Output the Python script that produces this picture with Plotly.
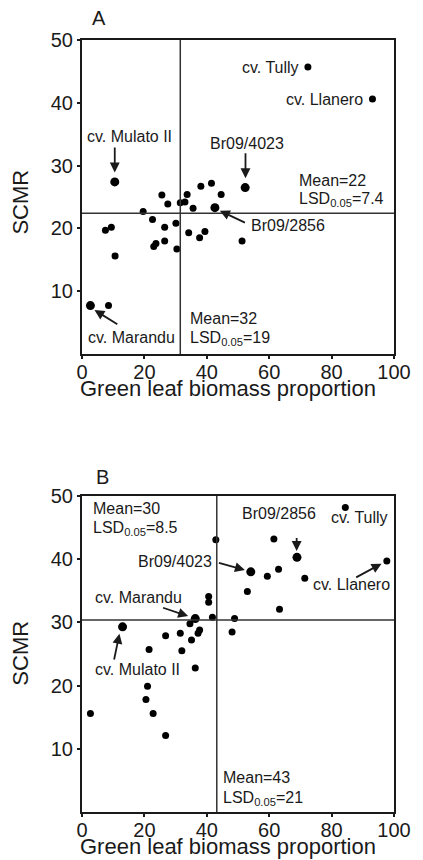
import plotly.graph_objects as go

# ---------------- data ----------------
# Panel A
A_green = [72.4, 93.1, 10.5, 52.3, 25.6, 33.7, 38.1, 41.5, 44.6, 27.5, 31.5, 33.0, 35.6, 42.6,
           19.6, 22.6, 30.1, 26.5, 7.5, 9.4, 34.2, 39.4, 37.7, 51.3, 23.7, 23.0, 26.5, 30.4,
           10.6, 2.7, 8.5]
A_scmr = [45.7, 40.6, 27.4, 26.5, 25.3, 25.4, 26.7, 27.2, 25.4, 23.9, 24.1, 24.2, 23.2, 23.3,
          22.7, 21.4, 20.8, 20.2, 19.7, 20.2, 19.3, 19.5, 18.5, 18.0, 17.6, 17.1, 18.0, 16.7,
          15.6, 7.7, 7.7]
A_highlight = [2, 3, 13, 29]          # Mulato II, Br09/4023, Br09/2856, Marandu
A_mean_green = 31.5
A_mean_scmr = 22.4

# Panel B
B_green = [84.4, 42.9, 61.5, 68.9, 97.7, 54.1, 59.4, 63.0, 71.4, 53.0, 63.3, 40.6, 40.6, 41.8,
           36.3, 34.6, 48.9, 13.0, 48.1, 26.8, 31.5, 37.2, 37.7, 35.1, 21.5, 32.0, 36.3, 21.0,
           20.5, 22.8, 2.7, 26.8]
B_scmr = [48.2, 43.1, 43.2, 40.3, 39.7, 38.0, 37.3, 38.4, 37.0, 34.9, 32.1, 34.1, 33.2, 30.8,
          30.6, 29.8, 30.6, 29.3, 28.5, 27.9, 28.3, 28.3, 28.8, 27.2, 25.7, 25.5, 22.8, 19.9,
          17.8, 15.6, 15.6, 12.1]
B_highlight = [3, 5, 14, 17]          # Br09/2856, Br09/4023, Marandu, Mulato II
B_mean_green = 43.2
B_mean_scmr = 30.4

x_ticks = [0, 20, 40, 60, 80, 100]
y_ticks = [10, 20, 30, 40, 50]

FONT = "Liberation Sans, Arial, sans-serif"
INK = "#1a1a1a"

fig = go.Figure()


def sizes(n, hl):
    return [9 if i in hl else 7 for i in range(n)]


fig.add_trace(go.Scatter(x=A_green, y=A_scmr, mode="markers",
                         marker=dict(color="#000000", opacity=1, size=sizes(len(A_green), A_highlight),
                                     line=dict(width=0)),
                         xaxis="x", yaxis="y", showlegend=False, hoverinfo="x+y"))
fig.add_trace(go.Scatter(x=B_green, y=B_scmr, mode="markers",
                         marker=dict(color="#000000", opacity=1, size=sizes(len(B_green), B_highlight),
                                     line=dict(width=0)),
                         xaxis="x2", yaxis="y2", showlegend=False, hoverinfo="x+y"))

# mean lines
for xr, yr, mx, my in [("x", "y", A_mean_green, A_mean_scmr), ("x2", "y2", B_mean_green, B_mean_scmr)]:
    fig.add_shape(type="line", xref=xr, yref=yr + " domain", x0=mx, x1=mx, y0=0, y1=1,
                  line=dict(color="#333", width=1.5))
    fig.add_shape(type="line", xref=xr + " domain", yref=yr, x0=0, x1=1, y0=my, y1=my,
                  line=dict(color="#333", width=1.5))

axis_common = dict(showline=True, mirror=True, linewidth=2, linecolor=INK, showgrid=False,
                   zeroline=False, ticks="outside", ticklen=3, tickwidth=1.5, tickcolor=INK,
                   tickfont=dict(family=FONT, size=20, color=INK))

# page body has an 8px margin, so the figure is 8px smaller than the window on each side
fig.update_layout(
    width=415, height=852,
    margin=dict(l=74, r=19, t=32, b=48),
    plot_bgcolor="white", paper_bgcolor="white",
    xaxis=dict(domain=[0, 1], range=[0, 100], tickvals=x_ticks, anchor="y",
               ticklabelstandoff=-4, **axis_common),
    yaxis=dict(domain=[0.5933, 1], range=[0, 50], tickvals=y_ticks, anchor="x", **axis_common),
    xaxis2=dict(domain=[0, 1], range=[0, 100], tickvals=x_ticks, anchor="y2",
                ticklabelstandoff=-4, **axis_common),
    yaxis2=dict(domain=[0, 0.4093], range=[0, 50], tickvals=y_ticks, anchor="x2", **axis_common),
)

ann = []


def txt(xr, yr, x, y, text, xanchor="left", size=16):
    ann.append(dict(xref=xr, yref=yr, x=x, y=y, text=text, showarrow=False, xanchor=xanchor,
                    yanchor="middle", font=dict(family=FONT, size=size, color=INK)))


def arrow(xr, yr, tail, head):
    ann.append(dict(xref=xr, yref=yr, axref=xr, ayref=yr, x=head[0], y=head[1], ax=tail[0],
                    ay=tail[1], text="", showarrow=True, arrowhead=2, arrowsize=1.1,
                    arrowwidth=1.8, arrowcolor=INK))


# Panel A texts
txt("x domain", "y domain", 0.056, 1.07, "A", "center", 20)
txt("x", "y", 70.2, 45.7, "cv. Tully", "right")
txt("x", "y", 90.7, 40.6, "cv. Llanero", "right")
txt("x", "y", 15.2, 34.6, "cv. Mulato II", "center")
txt("x", "y", 52.8, 33.5, "Br09/4023", "center")
txt("x", "y", 68.9, 27.6, "Mean=22")
txt("x", "y", 68.9, 24.6, "LSD<sub>0.05</sub>=7.4")
txt("x", "y", 53.4, 20.5, "Br09/2856")
txt("x", "y", 33.9, 5.7, "Mean=32")
txt("x", "y", 33.9, 2.4, "LSD<sub>0.05</sub>=19")
txt("x", "y", 1.2, 2.6, "cv. Marandu")
arrow("x", "y", (10.5, 33.1), (10.5, 28.9))
arrow("x", "y", (52.4, 32.2), (52.4, 28.0))
arrow("x", "y", (52.7, 20.8), (44.2, 22.8))
arrow("x", "y", (11.8, 4.6), (4.0, 7.0))

# Panel B texts
txt("x2 domain", "y2 domain", 0.065, 1.06, "B", "center", 20)
txt("x2", "y2", 2.8, 48.0, "Mean=30")
txt("x2", "y2", 2.8, 44.9, "LSD<sub>0.05</sub>=8.5")
txt("x2", "y2", 63.0, 47.3, "Br09/2856", "center")
txt("x2", "y2", 88.8, 46.6, "cv. Tully", "center")
txt("x2", "y2", 42.2, 39.6, "Br09/4023", "right")
txt("x2", "y2", 86.5, 36.0, "cv. Llanero", "center")
txt("x2", "y2", 3.4, 33.9, "cv. Marandu")
txt("x2", "y2", 3.4, 22.5, "cv. Mulato II")
txt("x2", "y2", 44.7, 5.5, "Mean=43")
txt("x2", "y2", 44.7, 2.2, "LSD<sub>0.05</sub>=21")
arrow("x2", "y2", (43.4, 39.5), (52.2, 38.3))
arrow("x2", "y2", (68.8, 43.6), (68.8, 41.3))
arrow("x2", "y2", (87.4, 37.0), (96.0, 39.3))
arrow("x2", "y2", (25.5, 32.4), (34.0, 31.0))
arrow("x2", "y2", (10.2, 23.9), (12.0, 28.2))

# axis titles
for xr, yr, ty, sy in [("x domain", "y domain", -0.11, 0.484), ("x2 domain", "y2 domain", -0.11, 0.503)]:
    ann.append(dict(xref=xr, yref=yr, x=0.469, y=ty, text="Green leaf biomass proportion",
                    showarrow=False, xanchor="center", yanchor="middle",
                    font=dict(family=FONT, size=22, color=INK)))
    ann.append(dict(xref=xr, yref=yr, x=-0.2, y=sy, text="SCMR", textangle=-90,
                    showarrow=False, xanchor="center", yanchor="middle",
                    font=dict(family=FONT, size=22, color=INK)))

fig.update_layout(annotations=ann)
fig.write_html("out.html")
